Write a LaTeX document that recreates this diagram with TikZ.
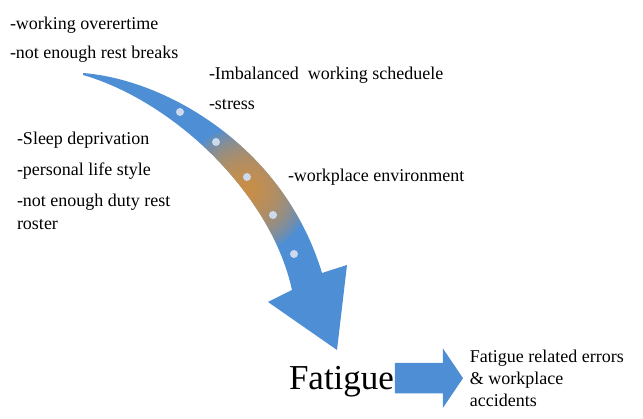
\documentclass[tikz,border=0pt]{standalone}
\usepackage{fontspec}
\setmainfont{Liberation Serif}
\usetikzlibrary{positioning,shapes.arrows}
\definecolor{arrowblue}{RGB}{78,142,212}
\definecolor{arrowgold}{RGB}{222,148,56}
\definecolor{dotblue}{RGB}{205,218,238}
\begin{document}
\begin{tikzpicture}[x=1pt,y=-1pt,
		every node/.style={inner sep=0pt, outer sep=0pt},
		cause/.style={anchor=north west, align=left, font=\fontsize{18}{23}\selectfont},
		blockarrow/.style={single arrow, fill=arrowblue, minimum height=68pt,
				inner xsep=0pt, inner ysep=15pt, single arrow head extend=14.5pt,
				single arrow tip angle=112},
	]
	\useasboundingbox (0,0) rectangle (643,419);
	\fill[arrowblue, path picture={
				\foreach \r in {4,8,...,64} {
						\fill[arrowgold, opacity=0.12] (246,190) circle (\r);
					}
			}] (83,73) .. controls (170,80) and (285,150) .. (322,273) -- (347,265)
		-- (337,350) -- (268,302) -- (292,290) .. controls (270,190) and (170,100) .. (83,75) -- cycle;
	\foreach \p in {(180,112),(216,142),(247,177),(273,215),(294,254)} {
			\fill[dotblue] \p circle (4);
		}
	\node[cause] (rest) at (10,17) {-working overertime\\[6pt]-not enough rest breaks};
	\node[cause] (sched) at (209,67) {-Imbalanced\ \ working scheduele\\[7pt]-stress};
	\node[cause] (sleep) at (17,132) {-Sleep deprivation\\[8pt]-personal life style\\[8pt]-not enough duty rest\\roster};
	\node[cause] (env) at (288,169) {-workplace environment};
	\node[anchor=base west, font=\fontsize{35}{40}\selectfont] (fat) at (289,390) {Fatigue};
	\node[blockarrow, right=1pt of fat, yshift=4pt] (blk) {};
	\node[anchor=west, align=left, font=\fontsize{18}{22}\selectfont, right=7pt of blk.tip] (err) {Fatigue related errors\\\& workplace\\accidents};
\end{tikzpicture}
\end{document}
